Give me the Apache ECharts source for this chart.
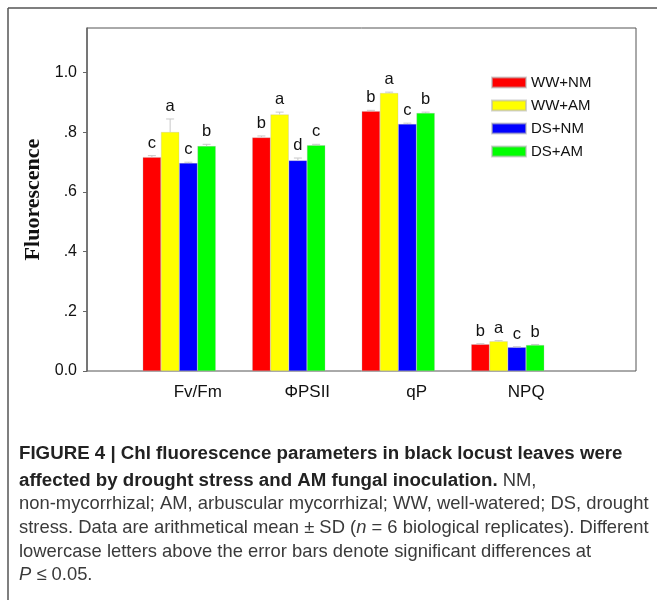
<!DOCTYPE html>
<html>
<head>
<meta charset="utf-8">
<script src="https://cdn.jsdelivr.net/npm/echarts@6/dist/echarts.min.js"></script>
<style>html,body{margin:0;padding:0;background:#fff;}#c{width:657px;height:600px;}</style>
</head>
<body>
<div id="c"></div>
<script>
const categories = ['Fv/Fm', 'ΦPSII', 'qP', 'NPQ'];
const seriesNames = ['WW+NM', 'WW+AM', 'DS+NM', 'DS+AM'];
const wwNM = [0.717, 0.783, 0.871, 0.0895];
const wwAM = [0.801, 0.860, 0.932, 0.0996];
const dsNM = [0.697, 0.706, 0.828, 0.0795];
const dsAM = [0.754, 0.757, 0.865, 0.087];
const wwNM_sd = [0.005, 0.005, 0.003, 0.002];
const wwAM_sd = [0.044, 0.008, 0.003, 0.002];
const dsNM_sd = [0.003, 0.008, 0.003, 0.002];
const dsAM_sd = [0.006, 0.003, 0.003, 0.002];
const wwNM_letters = ['c', 'b', 'b', 'b'];
const wwAM_letters = ['a', 'a', 'a', 'a'];
const dsNM_letters = ['c', 'd', 'c', 'c'];
const dsAM_letters = ['b', 'c', 'b', 'b'];
const yTickValues = [0, 0.2, 0.4, 0.6, 0.8, 1.0];
const yTicks = ['0.0', '.2', '.4', '.6', '.8', '1.0'];
const colors = ['#ff0000', '#ffff00', '#0000ff', '#00ff00'];

const means = [wwNM, wwAM, dsNM, dsAM];
const sds = [wwNM_sd, wwAM_sd, dsNM_sd, dsAM_sd];
const letters = [wwNM_letters, wwAM_letters, dsNM_letters, dsAM_letters];

const chart = echarts.init(document.getElementById('c'), null, {renderer: 'canvas'});
const font = "'Liberation Sans', Arial, sans-serif";

const series = [];
seriesNames.forEach((name, s) => {
  series.push({
    name: name, type: 'bar', xAxisIndex: 1, yAxisIndex: 1,
    barGap: '0%', barCategoryGap: '33.333%',
    itemStyle: {color: colors[s], borderColor: 'rgba(180,180,180,0.6)', borderWidth: 0.5},
    data: means[s], z: 3
  });
});
seriesNames.forEach((name, s) => {
  series.push({
    name: name + ' err', type: 'custom', xAxisIndex: 1, yAxisIndex: 1, z: 5,
    data: means[s].map((m, i) => [i, m, sds[s][i]]),
    renderItem: function (params, api) {
      const cat = api.value(0), m = api.value(1), sd = api.value(2);
      const band = api.size([1, 0])[0];
      const bw = band / 6;
      const off = (s - 1.5) * bw;
      const b = api.coord([cat, m]);
      const t = api.coord([cat, m + sd]);
      const x = b[0] + off;
      const cap = 4;
      return {
        type: 'group',
        children: [
          {type: 'line', shape: {x1: x, y1: b[1], x2: x, y2: t[1]}, style: {stroke: '#c8c8c8', lineWidth: 1}},
          {type: 'line', shape: {x1: x - cap, y1: t[1], x2: x + cap, y2: t[1]}, style: {stroke: '#c8c8c8', lineWidth: 1}},
          {type: 'text', style: {text: letters[s][params.dataIndex], x: x, y: t[1] - 4, textAlign: 'center', textVerticalAlign: 'bottom', font: '16.5px ' + font, fill: '#111'}}
        ]
      };
    }
  });
});

const option = {
  backgroundColor: '#ffffff',
  animation: false,
  grid: [
    {left: 87, top: 28, width: 549, height: 343, show: true, borderColor: '#555', borderWidth: 1, backgroundColor: 'transparent'},
    {left: 124.5, top: 28, width: 438, height: 343}
  ],
  xAxis: [
    {type: 'value', gridIndex: 0, show: false, min: 0, max: 1},
    {type: 'category', gridIndex: 1, data: categories,
     axisLine: {show: false}, axisTick: {show: false},
     axisLabel: {margin: 13, fontSize: 17, color: '#111', fontFamily: font, padding: [0, 0, 0, 37]}}
  ],
  yAxis: [
    {type: 'value', gridIndex: 0, min: 0, max: 1.15, interval: 0.2,
     splitLine: {show: false},
     axisLine: {show: true, lineStyle: {color: '#666', width: 1.5}},
     axisTick: {show: true, length: 4, lineStyle: {color: '#666'}, customValues: yTickValues},
     axisLabel: {margin: 10, fontSize: 16, color: '#111', fontFamily: font, customValues: yTickValues,
       formatter: function (v) { const i = yTickValues.findIndex(t => Math.abs(t - v) < 1e-6); return i >= 0 ? yTicks[i] : ''; }},
     name: 'Fluorescence', nameLocation: 'middle', nameGap: 42,
     nameTextStyle: {fontFamily: "'Liberation Serif', 'Times New Roman', serif", fontWeight: 'bold', fontSize: 22, color: '#111'}},
    {type: 'value', gridIndex: 1, min: 0, max: 1.15, show: false}
  ],
  legend: {
    data: seriesNames, orient: 'vertical', left: 486, top: 70,
    icon: 'rect', itemWidth: 34, itemHeight: 10, itemGap: 8,
    textStyle: {fontSize: 15, color: '#111', fontFamily: font}
  },
  graphic: [
    {type: 'line', shape: {x1: 8, y1: 8, x2: 657, y2: 8}, style: {stroke: '#555', lineWidth: 1.5}},
    {type: 'line', shape: {x1: 8, y1: 8, x2: 8, y2: 600}, style: {stroke: '#555', lineWidth: 1.5}},
    {type: 'text', left: 19, top: 444, style: {text: 'FIGURE 4 | Chl fluorescence parameters in black locust leaves were', font: 'bold 18.7px ' + font, fill: '#222'}},
    {type: 'text', left: 19, top: 471, style: {
      text: '{b|affected by drought stress and AM fungal inoculation.} NM,',
      font: '18.4px ' + font, fill: '#3a3a3a',
      rich: {b: {font: 'bold 18.7px ' + font, fill: '#222'}}}},
    {type: 'text', left: 19, top: 495, style: {text: 'non-mycorrhizal; AM, arbuscular mycorrhizal; WW, well-watered; DS, drought', font: '18.4px ' + font, fill: '#3a3a3a'}},
    {type: 'text', left: 19, top: 519, style: {
      text: 'stress. Data are arithmetical mean ± SD ({i|n} = 6 biological replicates). Different',
      font: '18.4px ' + font, fill: '#3a3a3a',
      rich: {i: {font: 'italic 18.4px ' + font, fill: '#3a3a3a'}}}},
    {type: 'text', left: 19, top: 543, style: {text: 'lowercase letters above the error bars denote significant differences at', font: '18.4px ' + font, fill: '#3a3a3a'}},
    {type: 'text', left: 19, top: 566, style: {
      text: '{i|P} ≤ 0.05.', font: '18.4px ' + font, fill: '#3a3a3a',
      rich: {i: {font: 'italic 18.4px ' + font, fill: '#3a3a3a'}}}}
  ],
  series: series
};
chart.setOption(option);
</script>
</body>
</html>
